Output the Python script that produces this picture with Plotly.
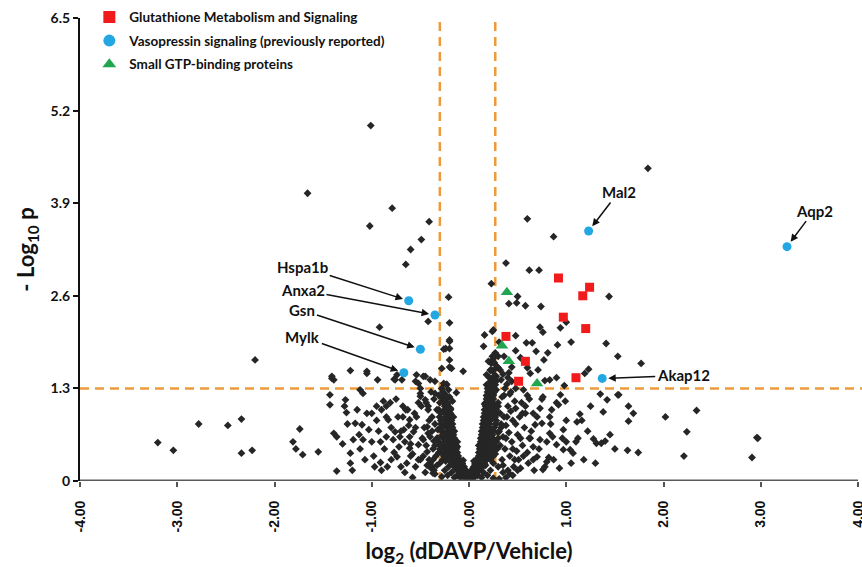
import plotly.graph_objects as go

# ---------------- data ----------------
# scattered (background) proteins: log2 ratio, -log10 p
bg_x = [-1.01,-1.66,-0.79,-1.02,-0.41,-0.49,-0.60,-0.65,0.23,-0.21,
        1.84,0.60,0.87,0.38,0.62,0.72,0.50,0.41,0.49,0.58,0.74,1.44,1.00,0.73,0.76,0.94,0.16,0.24,0.48,0.59,
        0.65,0.91,1.05,1.41,1.53,1.77,0.48,0.53,0.69,0.81,0.77,0.60,0.63,0.71,0.90,1.23,1.19,-0.06,0.20,0.30,
        0.23,0.18,0.78,0.83,0.98,1.53,-0.20,-0.20,-0.20,-0.13,
        -0.92,-0.42,-0.26,-0.20,-1.22,-1.05,-0.94,-0.76,-0.74,-0.54,-0.45,-0.55,-0.50,-0.35,-0.26,-0.18,-1.41,-1.39,-1.43,-1.27,
        -1.12,-1.09,-0.95,-0.85,-0.81,-0.68,-0.65,-0.85,-0.83,-0.61,-0.54,-1.17,-1.10,-1.03,-1.39,-1.36,-1.19,-1.09,-1.00,-0.91,
        -0.78,-0.71,-0.61,-1.55,-1.22,-1.22,-0.91,-0.90,-0.74,-0.64,-0.50,-0.43,-0.38,-0.37,-0.50,-0.45,-0.42,-0.49,-0.43,-0.42,
        -0.47,-0.52,-0.57,-0.61,-0.67,-0.76,
        -0.20,-0.24,-0.28,-0.20,-1.41,-1.05,-0.77,-0.69,-0.47,-0.52,-0.40,-0.50,-0.35,-0.23,0.15,0.25,0.28,0.22,
        -3.20,-3.04,-2.78,-2.48,-2.34,-2.34,-2.23,-1.81,-1.78,-1.71,-1.74,-1.43,-1.26,-1.36,-2.20,
        0.76,0.94,0.92,0.99,1.35,1.42,1.54,1.64,1.69,1.64,1.38,2.02,2.34,2.24,1.14,1.11,1.16,0.97,1.12,1.00,
        1.28,1.31,1.36,1.40,1.45,1.04,1.07,0.97,1.63,1.74,2.21,2.96,2.97,2.91,0.70,0.82,0.76,0.80,0.90,0.83,
        0.86,0.75,0.83,0.85,0.73,0.66,0.68,0.63,0.66,0.73,
        -0.55,-0.58,-0.62,-0.68,-0.72,-0.80,-0.85,-0.88,-0.95,-0.98,-1.05,-1.12,-1.15,-1.25,-1.30,-0.66,-0.52,-0.56,-0.60,-0.70,-0.75]
bg_y = [4.99,4.04,3.83,3.58,3.64,3.39,3.25,3.04,2.77,2.58,
        4.39,3.68,3.43,3.06,2.96,2.96,2.59,2.49,2.50,2.46,2.45,2.59,2.23,2.16,2.09,2.15,2.05,2.10,2.04,1.94,
        1.94,1.91,1.95,1.93,1.75,1.65,1.83,1.73,1.82,1.80,1.70,1.59,1.51,1.56,1.45,1.57,1.51,1.54,1.68,1.59,
        1.42,1.49,1.41,1.42,1.34,1.21,2.22,1.96,1.60,1.24,
        2.16,2.24,1.85,1.86,1.55,1.54,1.42,1.42,1.49,1.49,1.47,1.40,1.30,1.40,1.37,1.58,1.44,1.42,1.21,1.14,
        1.28,1.23,1.05,1.05,1.10,1.05,1.00,0.90,0.86,0.86,0.90,0.81,0.79,0.72,0.67,0.62,0.58,0.58,0.55,0.55,
        0.58,0.62,0.62,0.41,0.39,0.25,0.26,0.15,0.34,0.25,0.30,0.41,0.20,0.11,1.19,1.14,1.05,1.05,0.76,0.67,
        0.58,0.51,0.69,0.46,0.72,0.69,
        1.98,1.86,1.58,1.70,1.47,1.51,1.43,1.42,1.47,1.37,1.42,1.23,1.23,1.35,1.89,2.12,1.47,1.56,
        0.54,0.43,0.80,0.78,0.87,0.39,0.43,0.55,0.45,0.37,0.73,1.07,0.96,0.14,1.70,
        1.18,1.21,1.07,1.12,1.22,1.14,1.21,1.05,0.95,0.84,0.97,0.90,0.99,0.69,0.94,0.83,0.85,0.72,0.60,0.55,
        0.59,0.53,0.53,0.56,0.65,0.44,0.39,0.44,0.43,0.40,0.35,0.61,0.60,0.33,0.34,0.33,0.16,0.27,0.51,0.67,
        0.62,0.81,0.90,1.00,1.02,0.95,0.79,0.60,0.48,0.58,
        0.20,0.38,0.78,0.90,0.48,0.30,0.62,1.12,0.85,0.35,0.95,0.45,1.00,0.80,0.52,0.12,1.10,0.95,0.52,0.70,1.15]

# dense central "V" of small changes (first set)
core_x = [-0.02,0.01,0.00,-0.04,0.03,-0.06,0.05,-0.01,0.02,-0.08,0.07,-0.03,0.04,-0.10,0.08,-0.05,0.06,-0.07,0.10,-0.12,
          0.03,-0.03,0.00,0.02,-0.01,0.05,-0.05,0.06,-0.07,0.09,-0.09,0.11,-0.11,0.08,-0.13,0.12,-0.06,0.05,
          -0.14,-0.16,-0.12,-0.18,-0.15,-0.20,-0.17,-0.22,-0.19,-0.24,-0.20,-0.16,-0.23,-0.26,-0.19,-0.22,-0.27,-0.20,-0.25,-0.21,
          -0.28,-0.23,-0.30,-0.32,-0.28,-0.25,-0.30,-0.22,-0.27,-0.19,-0.24,-0.16,-0.21,-0.14,-0.18,-0.12,-0.15,-0.09,-0.25,-0.30,
          -0.34,-0.33,-0.35,-0.33,-0.36,-0.31,-0.29,-0.26,-0.21,-0.13,-0.11,-0.17,-0.23,-0.18,-0.24,-0.28,-0.26,-0.20,-0.17,-0.15,
          -0.12,-0.29,-0.38,-0.40,-0.37,-0.41,-0.39,-0.35,-0.28,-0.22,-0.33,-0.44,-0.46,-0.42,-0.47,-0.43,-0.36,-0.31,-0.27,-0.20,
          0.12,0.14,0.10,0.16,0.13,0.18,0.15,0.20,0.17,0.22,0.18,0.24,0.20,0.16,0.23,0.19,0.25,0.21,0.26,0.22,
          0.27,0.24,0.29,0.26,0.30,0.27,0.31,0.24,0.28,0.30,0.32,0.28,0.30,0.26,0.32,0.22,0.27,0.20,0.25,0.17,
          0.22,0.15,0.19,0.13,0.09,0.30,0.34,0.37,0.35,0.38,0.36,0.40,0.34,0.37,0.33,0.32,0.14,0.18,0.21,0.24,
          0.19,0.23,0.27,0.29,0.33,0.12,0.42,0.44,0.41,0.45,0.43,0.47,0.42,0.46,0.40,0.35,0.49,0.50,0.52,0.48,
          0.51,0.55,0.57,0.54,0.58,0.60,0.53,0.45,0.38,0.31,0.25,0.62,0.60,0.56,0.48,0.39,0.44,0.35,0.41,0.28,0.18]
core_y = [0.02,0.03,0.06,0.05,0.07,0.10,0.10,0.09,0.12,0.14,0.15,0.15,0.18,0.20,0.20,0.20,0.24,0.25,0.26,0.28,
          0.03,0.01,0.00,0.01,0.04,0.05,0.07,0.12,0.18,0.22,0.24,0.30,0.32,0.31,0.36,0.35,0.29,0.28,
          0.40,0.45,0.48,0.52,0.58,0.60,0.66,0.70,0.75,0.80,0.85,0.90,0.93,0.98,1.02,1.08,1.12,1.18,1.22,1.28,
          1.30,1.36,0.90,0.72,0.62,0.55,0.50,0.42,0.38,0.33,0.28,0.25,0.20,0.17,0.12,0.08,0.05,0.05,0.15,0.25,
          0.35,0.60,0.80,1.00,1.15,1.20,0.75,0.68,0.50,0.30,0.22,0.38,0.62,0.80,1.05,1.18,0.45,0.95,1.12,0.70,
          0.55,0.85,0.90,0.62,0.45,0.30,0.18,0.10,0.06,0.08,0.22,0.50,0.75,1.00,0.35,0.22,0.56,0.40,0.30,0.30,
          0.40,0.46,0.50,0.55,0.60,0.65,0.72,0.76,0.82,0.87,0.92,0.98,1.04,1.08,1.12,1.18,1.22,1.30,1.35,1.40,
          1.48,1.55,1.60,1.66,1.75,1.80,1.95,1.70,1.28,1.10,0.95,0.80,0.68,0.58,0.50,0.45,0.38,0.32,0.25,0.22,
          0.15,0.12,0.08,0.05,0.08,0.20,0.30,0.45,0.62,0.78,0.90,1.05,1.18,1.30,1.42,1.56,0.30,0.40,0.58,0.70,
          0.50,0.95,1.05,0.45,0.75,0.20,0.35,0.55,0.68,0.85,0.98,1.12,1.22,0.20,0.15,0.12,0.42,0.65,0.90,1.02,
          0.30,0.50,0.75,1.10,0.95,0.40,0.18,0.08,0.05,0.03,0.04,0.60,1.20,1.28,1.30,1.36,1.40,1.50,1.52,1.40,1.35]

# dense V, second set: one row per -log10 p level -> log2 ratios read at that level
v_rows = [
    (0.05, [-0.03,-0.01,0.01,0.03,-0.05,0.05,-0.02,0.02]),
    (0.10, [-0.07,-0.05,-0.03,0.02,0.04,0.06,-0.09,0.08]),
    (0.15, [-0.10,-0.08,-0.06,0.05,0.07,0.09,-0.12,0.11,-0.04,0.03]),
    (0.20, [-0.13,-0.10,-0.08,0.07,0.09,0.12,-0.15,0.14,-0.06,0.05]),
    (0.25, [-0.15,-0.12,-0.09,0.08,0.11,0.14,-0.18,0.16,-0.07]),
    (0.30, [-0.16,-0.13,-0.10,0.09,0.12,0.15,-0.20,0.18,-0.24,0.22]),
    (0.35, [-0.17,-0.14,-0.11,0.10,0.13,0.16,-0.21,0.20,-0.26,0.25]),
    (0.40, [-0.18,-0.15,-0.12,0.10,0.13,0.16,-0.22,0.20,-0.28,0.24]),
    (0.45, [-0.19,-0.16,-0.13,0.11,0.14,0.17,-0.23,0.21,-0.30,0.27]),
    (0.50, [-0.19,-0.16,-0.13,0.11,0.14,0.18,-0.24,0.22,-0.29,0.26]),
    (0.55, [-0.20,-0.17,-0.14,0.12,0.15,0.19,-0.25,0.23,-0.31,0.28]),
    (0.60, [-0.21,-0.18,-0.15,0.12,0.15,0.19,-0.26,0.24,-0.32,0.30]),
    (0.65, [-0.21,-0.18,-0.16,0.13,0.16,0.20,-0.27,0.24]),
    (0.70, [-0.22,-0.19,-0.16,0.13,0.16,0.20,-0.28,0.25,0.31]),
    (0.75, [-0.22,-0.19,-0.17,0.14,0.17,0.21,-0.27,0.26]),
    (0.80, [-0.23,-0.20,-0.17,0.14,0.17,0.21,-0.29,0.27,0.33]),
    (0.85, [-0.23,-0.20,-0.18,0.15,0.18,0.22,-0.28,0.28]),
    (0.90, [-0.24,-0.21,-0.18,0.15,0.18,0.22,-0.30,0.27]),
    (0.95, [-0.24,-0.21,-0.19,0.16,0.19,0.23,-0.29,0.29]),
    (1.00, [-0.25,-0.22,-0.19,0.16,0.19,0.23,-0.31,0.28]),
    (1.05, [-0.25,-0.22,0.17,0.20,0.24,0.30]),
    (1.10, [-0.26,-0.23,0.17,0.20,0.24,-0.30]),
    (1.15, [-0.26,-0.23,0.18,0.21,0.25]),
    (1.20, [-0.27,-0.24,0.18,0.21,0.25]),
    (1.25, [-0.27,0.19,0.22,0.26]),
    (1.30, [-0.28,0.19,0.22,0.26]),
    (1.35, [0.20,0.23,0.27]),
    (1.45, [0.21,0.24,0.27]),
    (1.55, [0.22,0.25]),
    (1.65, [0.23,0.26]),
    (1.75, [0.24,0.27]),
]

# flanks of the V (moderate changes, not significant)
flank_x = [-0.36,-0.40,-0.45,-0.48,-0.52,-0.55,-0.58,-0.60,-0.63,-0.66,-0.70,-0.73,-0.77,-0.80,-0.84,-0.87,-0.90,-0.93,-0.97,-1.00,
           -1.07,-1.13,-1.20,-1.28,-0.38,-0.41,-0.44,-0.39,-0.35,-0.37,
           0.35,0.38,0.42,0.45,0.48,0.50,0.53,0.56,0.58,0.61,0.64,0.67,0.70,0.72,0.75,0.78,0.80,0.84,0.87,0.90,
           0.93,0.96,1.00,1.05,1.10,1.18,1.22,1.25,1.30,1.50,0.36,0.39,0.43,0.47,0.55,0.62,0.66,0.40,0.44,0.36]
flank_y = [0.15,0.25,0.12,0.60,0.30,0.75,0.05,0.35,1.00,0.55,0.20,0.90,0.40,0.75,0.20,0.45,1.00,0.70,0.20,0.95,
           0.30,0.65,0.15,1.05,0.70,0.85,1.10,1.25,0.50,0.30,
           0.22,0.60,0.10,0.45,0.80,0.15,0.60,0.35,1.05,0.25,0.70,0.15,0.90,0.45,1.15,0.20,0.55,0.80,0.30,1.10,
           0.18,0.60,0.85,0.25,0.55,0.30,0.70,1.05,0.25,0.45,1.20,0.90,1.25,0.30,0.95,1.15,0.30,1.45,1.60,1.75]

# highlighted groups
glut_x = [0.92, 1.24, 1.17, 0.97, 1.20, 0.38, 0.58, 0.51, 1.10]
glut_y = [2.85, 2.72, 2.60, 2.30, 2.14, 2.03, 1.68, 1.40, 1.45]

vaso_names = ["Mal2", "Aqp2", "Akap12", "Hspa1b", "Anxa2", "Gsn", "Mylk"]
vaso_x = [1.23, 3.27, 1.37, -0.62, -0.35, -0.50, -0.67]
vaso_y = [3.51, 3.29, 1.44, 2.53, 2.33, 1.85, 1.52]

gtp_x = [0.39, 0.34, 0.41, 0.70]
gtp_y = [2.65, 1.90, 1.68, 1.37]

# thresholds
p_cut = 1.3
fc_low, fc_high = -0.30, 0.27

x_ticks = [-4, -3, -2, -1, 0, 1, 2, 3, 4]
x_ticklabels = ["-4.00", "-3.00", "-2.00", "-1.00", "0.00", "1.00", "2.00", "3.00", "4.00"]
y_ticks = [0, 1.3, 2.6, 3.9, 5.2, 6.5]
y_ticklabels = ["0", "1.3", "2.6", "3.9", "5.2", "6.5"]

# label offsets (pixels) for text relative to point
label_offsets = {
    "Mal2": (30, -39), "Aqp2": (27, -36), "Akap12": (81, -3),
    "Hspa1b": (-106, -34), "Anxa2": (-132, -25), "Gsn": (-118, -39), "Mylk": (-101, -36),
}

# ---------------- assemble background points ----------------
all_x = bg_x + core_x + flank_x
all_y = bg_y + core_y + flank_y
for yv, xs in v_rows:
    all_x += xs
    all_y += [yv] * len(xs)

# ---------------- figure ----------------
BOLD = dict(family="Lato, Open Sans, sans-serif", color="#111111", weight="bold")
ORANGE = "#EE9A3A"

fig = go.Figure()
fig.add_trace(go.Scatter(
    x=all_x, y=all_y, mode="markers", showlegend=False,
    marker=dict(symbol="diamond", size=6, color="#262626"), hoverinfo="skip"))
fig.add_trace(go.Scatter(
    x=glut_x, y=glut_y, mode="markers", name="Glutathione Metabolism and Signaling", legendgroup="a",
    marker=dict(symbol="square", size=9, color="#F21B1B")))
fig.add_trace(go.Scatter(
    x=vaso_x, y=vaso_y, mode="markers", name="Vasopressin signaling (previously reported)", legendgroup="b",
    marker=dict(symbol="circle", size=9, color="#22A7E3")))
fig.add_trace(go.Scatter(
    x=gtp_x, y=gtp_y, mode="markers", name="Small GTP-binding proteins", legendgroup="c",
    marker=dict(symbol="triangle-up", size=11, color="#1FA64E")))

dash = dict(color=ORANGE, width=2.5, dash="9px,6px")
fig.add_shape(type="line", xref="paper", yref="y", x0=0, x1=1.01, y0=p_cut, y1=p_cut, line=dash, layer="below")
for xv in (fc_low, fc_high):
    fig.add_shape(type="line", xref="x", yref="y", x0=xv, x1=xv, y0=0, y1=6.5, line=dash, layer="below")

for name, xv, yv in zip(vaso_names, vaso_x, vaso_y):
    ax, ay = label_offsets[name]
    fig.add_annotation(x=xv, y=yv, text=name, showarrow=True, ax=ax, ay=ay,
                       arrowhead=2, arrowsize=1, arrowwidth=1.5, arrowcolor="#111111",
                       standoff=6, font=dict(size=15, **BOLD))

fig.update_layout(
    width=862, height=567, margin=dict(l=80, r=4, t=18, b=86, autoexpand=False),
    paper_bgcolor="white", plot_bgcolor="white",
    legend=dict(x=0.012, y=1.035, xanchor="left", yanchor="top", tracegroupgap=3,
                font=dict(size=13.5, **BOLD), bgcolor="rgba(0,0,0,0)", itemsizing="constant"),
    xaxis=dict(range=[-4, 4], tickvals=x_ticks, ticktext=x_ticklabels, tickangle=-90,
               ticks="outside", ticklen=5, tickwidth=1.5, tickcolor="#555555",
               ticklabeloverflow="allow", ticklabelstandoff=8, automargin=False,
               showgrid=False, zeroline=False, showline=False,
               tickfont=dict(family="Liberation Sans, Arial", size=14, color="#111111", weight="bold"),
               title=dict(text="log<sub>2</sub> (dDAVP/Vehicle)", font=dict(size=22, **BOLD), standoff=12)),
    yaxis=dict(range=[0, 6.5], tickvals=y_ticks, ticktext=y_ticklabels,
               ticks="outside", ticklen=5, tickwidth=1.5, tickcolor="#111111",
               showgrid=False, zeroline=False, showline=True, linecolor="#111111", linewidth=2,
               tickfont=dict(size=14, **BOLD), automargin=False,
               title=dict(text="- Log<sub>10</sub> p", font=dict(size=22, **BOLD), standoff=10)),
)
# x-axis baseline (gray, thick)
fig.add_shape(type="line", xref="paper", yref="y", x0=0, x1=1, y0=0, y1=0,
              line=dict(color="#5a5a5a", width=3), layer="above")

fig.write_html("out.html")
